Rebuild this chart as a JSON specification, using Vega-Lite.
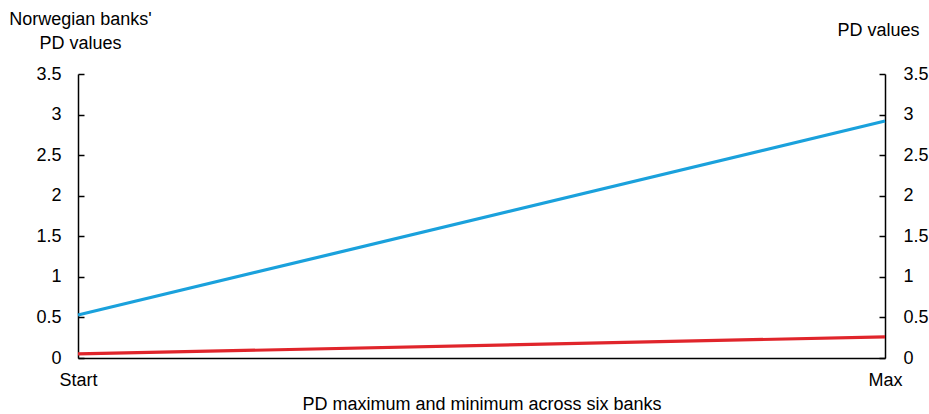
{
  "$schema": "https://vega.github.io/schema/vega-lite/v6.json",
  "width": 807,
  "height": 284,
  "autosize": "none",
  "padding": {"left": 78, "top": 74, "right": 44, "bottom": 56},
  "config": {
    "view": {"stroke": null},
    "font": "Liberation Sans",
    "axis": {
      "grid": false,
      "domainColor": "#000000",
      "domainWidth": 1.5,
      "tickColor": "#000000",
      "tickWidth": 1.5,
      "labelFont": "Liberation Sans",
      "labelFontSize": 18,
      "labelColor": "#000000",
      "titleFont": "Liberation Sans",
      "titleFontSize": 18,
      "titleFontWeight": "normal",
      "titleColor": "#000000"
    }
  },
  "data": {
    "values": [
      {"point": "Start", "series": "Maximum", "pd": 0.53},
      {"point": "Max", "series": "Maximum", "pd": 2.92},
      {"point": "Start", "series": "Minimum", "pd": 0.05},
      {"point": "Max", "series": "Minimum", "pd": 0.26}
    ]
  },
  "encoding": {
    "x": {
      "field": "point",
      "type": "ordinal",
      "sort": ["Start", "Max"],
      "scale": {"type": "point", "padding": 0},
      "axis": {
        "title": "PD maximum and minimum across six banks",
        "labelAngle": 0,
        "ticks": false,
        "labelPadding": 13,
        "titlePadding": 6
      }
    }
  },
  "layer": [
    {
      "mark": {"type": "line", "strokeWidth": 3.2},
      "encoding": {
        "y": {
          "field": "pd",
          "type": "quantitative",
          "scale": {"domain": [0, 3.5]},
          "axis": {
            "orient": "left",
            "values": [0, 0.5, 1, 1.5, 2, 2.5, 3, 3.5],
            "format": "~g",
            "tickSize": -6,
            "labelPadding": 23,
            "title": ["Norwegian banks'", "PD values"],
            "titleAngle": 0,
            "titleAlign": "center",
            "titleBaseline": "top",
            "titleX": 2,
            "titleY": -64,
            "titleLineHeight": 24
          }
        },
        "color": {
          "field": "series",
          "type": "nominal",
          "scale": {"domain": ["Maximum", "Minimum"], "range": ["#1aa1dc", "#e0252b"]},
          "legend": null
        }
      }
    },
    {
      "mark": {"type": "line", "opacity": 0},
      "encoding": {
        "y": {
          "field": "pd",
          "type": "quantitative",
          "scale": {"domain": [0, 3.5]},
          "axis": {
            "orient": "right",
            "values": [0, 0.5, 1, 1.5, 2, 2.5, 3, 3.5],
            "format": "~g",
            "tickSize": -6,
            "labelPadding": 24,
            "title": "PD values",
            "titleAngle": 0,
            "titleAlign": "center",
            "titleBaseline": "top",
            "titleX": -7,
            "titleY": -53
          }
        },
        "detail": {"field": "series"}
      }
    }
  ],
  "resolve": {"axis": {"y": "independent"}}
}
